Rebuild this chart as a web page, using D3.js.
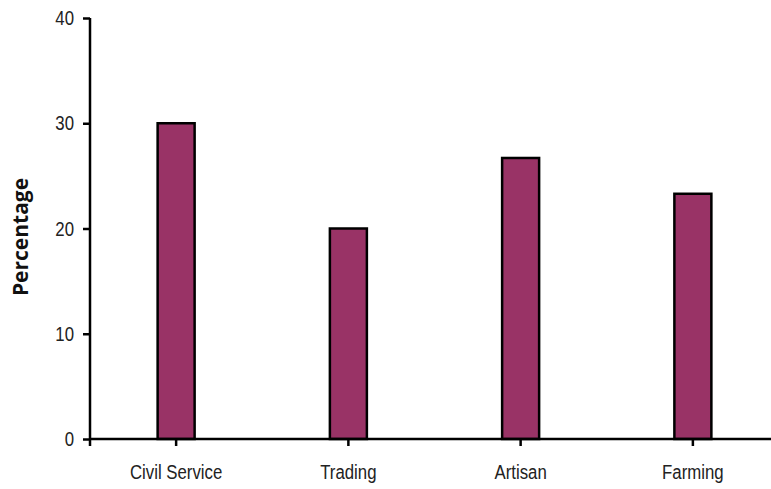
<!DOCTYPE html>
<html><head><meta charset="utf-8">
<script src="https://cdn.jsdelivr.net/npm/d3@7"></script>
<style>body{margin:0;background:#fff}svg{display:block}</style>
</head><body>
<script>
const categories = ["Civil Service", "Trading", "Artisan", "Farming"];
const values = [30, 20, 26.7, 23.3];
const yTicks = [0, 10, 20, 30, 40];

const W = 771, H = 489;
const svg = d3.select("body").append("svg").attr("width", W).attr("height", H);
const tickFont = "'Liberation Sans Narrow','Arial Narrow','Liberation Sans',sans-serif";
const sx = 0.8;

const x = d3.scaleBand().domain(categories).range([90, 779]);
const y = d3.scaleLinear().domain([0, 40]).range([439, 18]);
const bw = 37;

svg.selectAll("rect.bar").data(values).enter().append("rect")
  .attr("x", (d, i) => x(categories[i]) + x.bandwidth() / 2 - bw / 2)
  .attr("y", d => y(d))
  .attr("width", bw)
  .attr("height", d => y(0) - y(d))
  .attr("fill", "#993366")
  .attr("stroke", "#000")
  .attr("stroke-width", 2.5);

const ya = svg.append("g").attr("transform", "translate(90,0)")
  .call(d3.axisLeft(y).tickValues(yTicks).tickSize(7).tickFormat(d3.format("d")));
ya.select(".domain").attr("stroke-width", 2.5).attr("d", "M0,18V446");
ya.selectAll(".tick line").attr("stroke-width", 2.5);
ya.selectAll("text").attr("font-family", tickFont).attr("font-size", 21).attr("fill", "#222")
  .attr("x", -16 / sx).attr("transform", `scale(${sx},1)`);

const xa = svg.append("g").attr("transform", "translate(0,439)")
  .call(d3.axisBottom(x).tickSize(7).tickPadding(18));
xa.select(".domain").attr("stroke-width", 2.5).attr("d", "M90,0H779");
xa.selectAll(".tick line").attr("stroke-width", 2.5);
xa.selectAll("text").attr("font-family", tickFont).attr("font-size", 21).attr("fill", "#222")
  .attr("transform", `scale(${sx},1)`);

svg.append("text")
  .attr("transform", "translate(28,237) rotate(-90)")
  .attr("text-anchor", "middle")
  .attr("font-family", "'Open Sans',sans-serif")
  .attr("font-weight", "bold")
  .attr("font-size", 21)
  .attr("fill", "#111")
  .text("Percentage");
</script>
</body></html>
